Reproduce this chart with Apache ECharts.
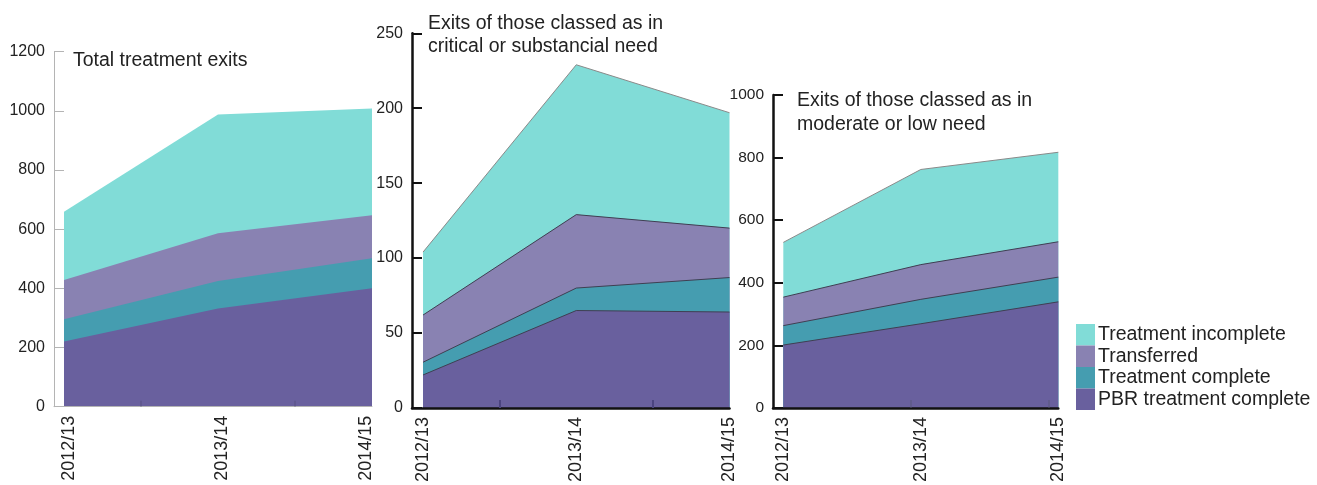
<!DOCTYPE html>
<html><head><meta charset="utf-8">
<script src="https://cdn.jsdelivr.net/npm/echarts@6/dist/echarts.min.js"></script>
<style>html,body{margin:0;padding:0;background:#fff}#c{width:1317px;height:485px}</style>
</head><body><div id="c"></div>
<script>
const categories = ['2012/13', '2013/14', '2014/15'];
const names = ['PBR treatment complete', 'Treatment complete', 'Transferred', 'Treatment incomplete'];
const legendOrder = ['Treatment incomplete', 'Transferred', 'Treatment complete', 'PBR treatment complete'];
const titles = ['Total treatment exits', 'Exits of those classed as in\ncritical or substancial need', 'Exits of those classed as in\nmoderate or low need'];

// Total treatment exits
const totalPBR = [220, 332, 400];
const totalComplete = [76, 93, 102];
const totalTransferred = [132, 161, 145];
const totalIncomplete = [231, 402, 361];
// Critical or substantial need
const critPBR = [22, 65, 64];
const critComplete = [8.5, 15, 23];
const critTransferred = [31.5, 49, 33];
const critIncomplete = [42, 100, 77];
// Moderate or low need
const modPBR = [201, 269, 339];
const modComplete = [62, 78, 79];
const modTransferred = [91, 111, 113];
const modIncomplete = [175, 304, 286];

const yMax = [1200, 250, 1000];
const yInterval = [200, 50, 200];
const midTicks = [[0.5, 1.5], [0.5, 1.5], [0.93, 1.93]];

const colors = ['#69609e', '#459db0', '#8982b2', '#81dcd7'];
const FONT = '"Liberation Sans", Arial, sans-serif';

const panels = [
  [totalPBR, totalComplete, totalTransferred, totalIncomplete],
  [critPBR, critComplete, critTransferred, critIncomplete],
  [modPBR, modComplete, modTransferred, modIncomplete]
];

const grids = [
  {left: 54, top: 51.7, width: 318, height: 355},
  {left: 412, top: 33.3, width: 317.5, height: 376},
  {left: 773, top: 95, width: 285.3, height: 315.7}
];
const xPad = [0.065, 0.072, 0.075];
const axisCol = ['#b4b4b4', '#111', '#111'];
const axisW = [1, 2.5, 2.5];
const yFont = [16, 16, 15.5];

const xAxis = [], yAxis = [], series = [];
for (let g = 0; g < 3; g++) {
  xAxis.push({
    type: 'value', gridIndex: g, min: -xPad[g], max: 2, z: 5,
    axisLine: {show: true, onZero: false, lineStyle: {color: axisCol[g], width: axisW[g]}},
    axisTick: {show: true, inside: true, length: g === 0 ? 6 : 8, customValues: midTicks[g],
      lineStyle: {color: g === 0 ? 'rgba(80,75,120,0.45)' : (g === 1 ? '#4b4480' : 'rgba(90,90,120,0.55)'), width: g === 1 ? 2 : 1.5}},
    axisLabel: {customValues: g === 0 ? [0.035, 1.025, 1.96] : [0, 1, 2], rotate: 90, margin: 9,
      fontSize: 18, color: '#222', fontFamily: FONT,
      formatter: v => categories[Math.round(v)]},
    splitLine: {show: false}
  });
  yAxis.push({
    type: 'value', gridIndex: g, min: 0, max: yMax[g], interval: yInterval[g], z: 5,
    axisLine: {show: true, onZero: false, lineStyle: {color: axisCol[g], width: axisW[g]}},
    axisTick: {show: true, inside: true, length: 10, lineStyle: {color: axisCol[g], width: g === 0 ? 1 : 2}},
    axisLabel: {margin: 9, fontSize: yFont[g], color: '#222', fontFamily: FONT, padding: [6, 0, 0, 0], formatter: v => String(v)},
    splitLine: {show: false}
  });
  // stack the layers: running totals of the read values, bottom to top
  const layers = panels[g];
  const tops = [];
  let run = [0, 0, 0];
  layers.forEach(arr => { run = run.map((r, k) => r + arr[k]); tops.push(run.slice()); });
  // draw the highest layer first so that lower layers paint over it
  for (let i = 3; i >= 0; i--) {
    series.push({
      type: 'line', name: names[i], xAxisIndex: g, yAxisIndex: g,
      symbol: 'none', silent: true,
      data: tops[i].map((v, k) => [k, v]),
      itemStyle: {color: colors[i]},
      lineStyle: g === 0 ? {width: 0} : {width: 1, color: i === 3 ? '#8a8a8a' : '#3f3f52'},
      areaStyle: {color: colors[i], opacity: 1, origin: 'start'},
      z: 2
    });
  }
}

const chart = echarts.init(document.getElementById('c'));
chart.setOption({
  animation: false,
  backgroundColor: '#fff',
  title: [
    {text: titles[0], left: 73, top: 51, padding: 0, textStyle: {fontSize: 19.5, fontWeight: 'normal', color: '#222', fontFamily: FONT}},
    {text: titles[1], left: 428, top: 11.8, padding: 0, textStyle: {fontSize: 19.5, lineHeight: 23, fontWeight: 'normal', color: '#222', fontFamily: FONT}},
    {text: titles[2], left: 797, top: 88.2, padding: 0, textStyle: {fontSize: 19.5, lineHeight: 24.5, fontWeight: 'normal', color: '#222', fontFamily: FONT}}
  ],
  legend: {
    data: legendOrder, orient: 'vertical', left: 1076, top: 324, padding: 0,
    itemGap: 0, itemWidth: 19, itemHeight: 21.5, icon: 'rect',
    itemStyle: {borderWidth: 0},
    selectedMode: false,
    textStyle: {fontSize: 19.5, lineHeight: 21.5, color: '#222', fontFamily: FONT, padding: [0, 0, 0, -2]}
  },
  grid: grids,
  xAxis: xAxis,
  yAxis: yAxis,
  series: series
});
</script></body></html>
